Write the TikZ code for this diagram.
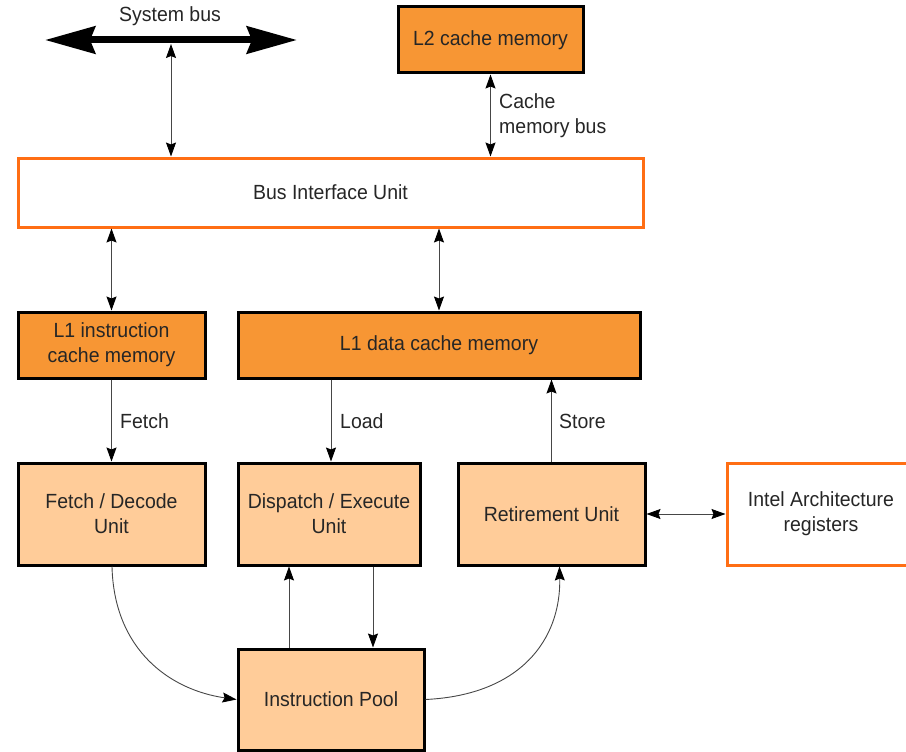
\documentclass[tikz,border=0pt]{standalone}
\usepackage{fontspec}
\setmainfont{Liberation Sans}[FakeStretch=0.95]
\usetikzlibrary{arrows.meta}
\definecolor{cachefill}{RGB}{247,150,52}
\definecolor{unitfill}{RGB}{255,204,153}
\definecolor{biuedge}{RGB}{255,110,20}
\definecolor{wire}{RGB}{70,70,70}
\begin{document}
\begin{tikzpicture}[x=1pt,y=-1pt,
  every node/.style={font=\fontsize{20.5}{25}\selectfont, align=center, inner sep=0pt, text=black!85},
  cachebox/.style={draw=black, line width=3pt, fill=cachefill},
  unitbox/.style={draw=black, line width=3pt, fill=unitfill},
  openbox/.style={draw=biuedge, line width=3pt, fill=white},
  oneway/.style={draw=wire, line width=0.9pt, -{Stealth[length=14pt,width=10pt,inset=2pt,black]}},
  twoway/.style={draw=wire, line width=0.9pt, {Stealth[length=14pt,width=10pt,inset=2pt,black]}-{Stealth[length=14pt,width=10pt,inset=2pt,black]}},
  busline/.style={line width=7pt, {Stealth[length=50pt,width=27pt,inset=5pt]}-{Stealth[length=50pt,width=27pt,inset=5pt]}},
  edgelabel/.style={anchor=west}
]
\useasboundingbox (0,0) rectangle (906,752);
\clip (0,0) rectangle (906,752);

% system bus
\coordinate (busL) at (45,40);
\coordinate (busR) at (297,40);
\coordinate (busT) at (171,44);
\draw[busline] (busL) -- (busR);
\node (sysbus) at (170,16) {System bus};

% boxes
\node[cachebox, minimum width=185pt, minimum height=66pt] (l2) at (490.5,40) {L2 cache memory};
\node[openbox, minimum width=625pt, minimum height=69pt] (biu) at (330.5,192.5) {Bus Interface Unit};
\node[cachebox, minimum width=187pt, minimum height=66pt] (l1i) at (111.5,345) {L1 instruction\\cache memory};
\node[cachebox, minimum width=402pt, minimum height=66pt] (l1d) at (439,345) {L1 data cache memory};
\node[unitbox, minimum width=187pt, minimum height=102pt] (fetch) at (111.5,514) {Fetch / Decode\\Unit};
\node[unitbox, minimum width=182pt, minimum height=102pt] (disp) at (329,514) {Dispatch / Execute\\Unit};
\node[unitbox, minimum width=187pt, minimum height=102pt] (retire) at (551.5,514) {Retirement Unit};
\node[openbox, minimum width=188pt, minimum height=102pt] (intel) at (821,514) {Intel Architecture\\registers};
\node[unitbox, minimum width=186pt, minimum height=101pt] (pool) at (331,699.5) {Instruction Pool};

% bus connections
\draw[twoway] (busT) -- (busT |- biu.north);
\draw[twoway] (l2.south) -- (l2.south |- biu.north);
\node[edgelabel, align=left] (cmbus) at (499,116) {Cache\\memory bus};
\draw[twoway] (l1i.north |- biu.south) -- (l1i.north);
\draw[twoway] (l1d.north |- biu.south) -- (l1d.north);

% cache to units
\draw[oneway] (l1i.south) -- (fetch.north);
\node[edgelabel] (fetchlbl) at (120,421) {Fetch};
\draw[oneway] ([xshift=2pt]disp.north |- l1d.south) -- ([xshift=2pt]disp.north);
\node[edgelabel] (loadlbl) at (340,421) {Load};
\draw[oneway] (retire.north) -- (retire.north |- l1d.south);
\node[edgelabel] (storelbl) at (559,421) {Store};
\draw[twoway] (retire.east) -- (intel.west);

% instruction pool traffic
\draw[oneway] ([xshift=-42pt]pool.north) -- ([xshift=-42pt]pool.north |- disp.south);
\draw[oneway] ([xshift=42pt]pool.north |- disp.south) -- ([xshift=42pt]pool.north);
\draw[oneway] ([xshift=0.5pt]fetch.south) .. controls (114,650) and (170,690) .. (pool.west);
\draw[oneway] (pool.east) .. controls (520,695) and (561,640) .. ([xshift=8pt]retire.south);
\end{tikzpicture}
\end{document}
